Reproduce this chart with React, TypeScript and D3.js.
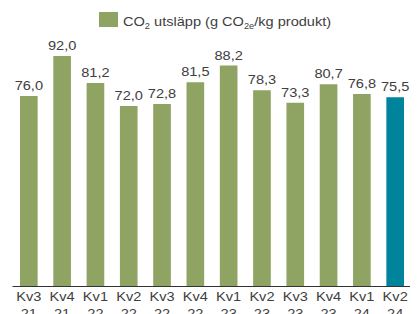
import React, { useEffect, useRef } from "react";
import * as d3 from "d3";

const quarters = ["Kv3", "Kv4", "Kv1", "Kv2", "Kv3", "Kv4", "Kv1", "Kv2", "Kv3", "Kv4", "Kv1", "Kv2"];
const years = ["21", "21", "22", "22", "22", "22", "23", "23", "23", "23", "24", "24"];
const values = [76.0, 92.0, 81.2, 72.0, 72.8, 81.5, 88.2, 78.3, 73.3, 80.7, 76.8, 75.5];

const App = () => {
  const svgRef = useRef<SVGSVGElement>(null);
  const width = 419;
  const height = 314;

  useEffect(() => {
    const svg = d3.select(svgRef.current).attr("width", width).attr("height", height);
    svg.selectAll("*").remove();

    const green = "#8fa463";
    const teal = "#00849c";
    const textColor = "#404040";
    const font = "'Liberation Sans', Arial, sans-serif";
    const fontSize = "13.5px";
    const stretch = 1.08; // text in the source is slightly wide

    const idx = values.map((_, i) => i);
    const x = d3.scaleBand<number>().domain(idx).range([12, 412]).paddingInner(0.47).paddingOuter(0.24);
    const y = d3.scaleLinear().domain([0, 100]).range([286, 36]);
    const cx = (i: number) => x(i)! + x.bandwidth() / 2;

    // bars
    svg
      .append("g")
      .selectAll("rect")
      .data(values)
      .enter()
      .append("rect")
      .attr("x", (d, i) => x(i)!)
      .attr("y", (d) => y(d))
      .attr("width", x.bandwidth())
      .attr("height", (d) => y(0) - y(d))
      .attr("fill", (d, i) => (i === values.length - 1 ? teal : green));

    // value labels
    svg
      .append("g")
      .selectAll("text")
      .data(values)
      .enter()
      .append("text")
      .attr("transform", (d, i) => `translate(${cx(i)},${y(d) - 6}) scale(${stretch},1)`)
      .attr("text-anchor", "middle")
      .attr("fill", textColor)
      .style("font-family", font)
      .style("font-size", fontSize)
      .text((d) => d.toFixed(1).replace(".", ","));

    // axis line
    svg
      .append("line")
      .attr("x1", 12.5)
      .attr("x2", 410)
      .attr("y1", y(0) + 0.5)
      .attr("y2", y(0) + 0.5)
      .attr("stroke", "#333")
      .attr("stroke-width", 1);

    // category labels (two lines, second one runs off the bottom like the source)
    const cat = svg
      .append("g")
      .selectAll("text")
      .data(idx)
      .enter()
      .append("text")
      .attr("transform", (i) => `translate(${cx(i)},0) scale(${stretch},1)`)
      .attr("text-anchor", "middle")
      .attr("fill", textColor)
      .style("font-family", font)
      .style("font-size", fontSize);
    cat
      .append("tspan")
      .attr("x", 0)
      .attr("y", 301)
      .text((i) => quarters[i]);
    cat
      .append("tspan")
      .attr("x", 0)
      .attr("y", 318)
      .text((i) => years[i]);

    // legend
    const legend = svg.append("g");
    legend
      .append("rect")
      .attr("x", 99)
      .attr("y", 12)
      .attr("width", 19)
      .attr("height", 15)
      .attr("fill", green);
    const lt = legend
      .append("text")
      .attr("transform", `translate(123,26) scale(${stretch},1)`)
      .attr("fill", textColor)
      .style("font-family", font)
      .style("font-size", fontSize);
    lt.append("tspan").text("CO");
    lt.append("tspan").attr("dy", 3).style("font-size", "8.5px").text("2");
    lt.append("tspan").attr("dy", -3).text(" utsläpp (g CO");
    lt.append("tspan").attr("dy", 3).style("font-size", "8.5px").text("2e");
    lt.append("tspan").attr("dy", -3).text("/kg produkt)");
  }, []);

  return (
    <svg ref={svgRef} style={{ position: "absolute", left: 0, top: 0, background: "#fff" }}></svg>
  );
};

export default App;
